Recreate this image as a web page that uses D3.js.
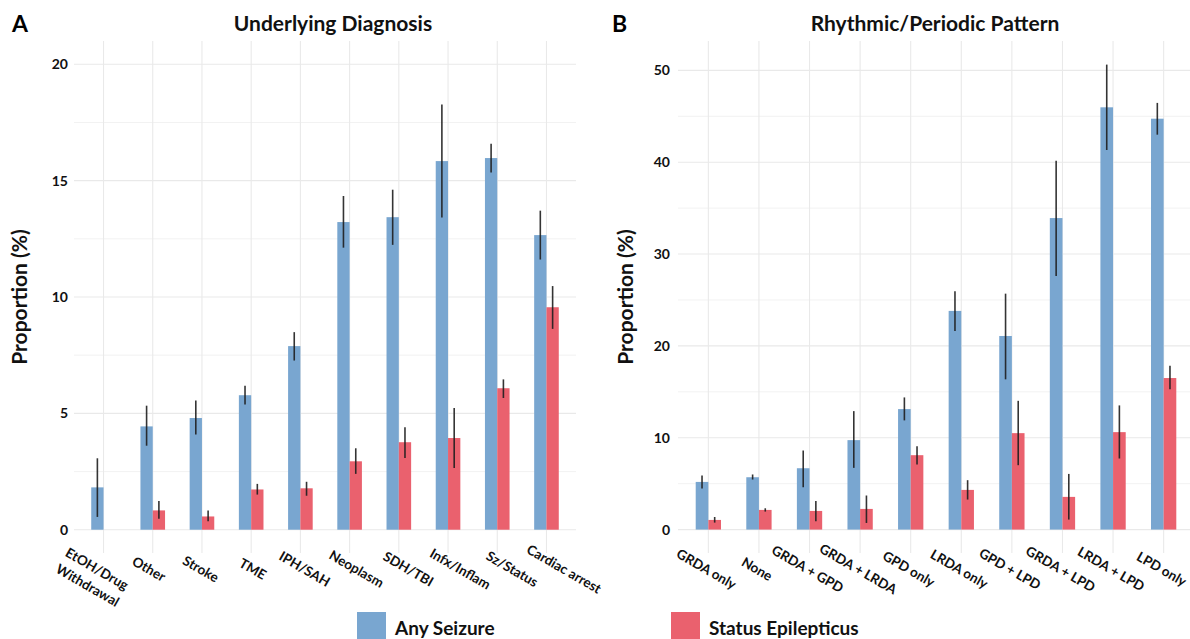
<!DOCTYPE html>
<html>
<head>
<meta charset="utf-8">
<script src="https://cdn.jsdelivr.net/npm/d3@7"></script>
<style>
  html, body { margin: 0; padding: 0; background: #fff; }
  svg { display: block; font-family: "Lato", "Open Sans", sans-serif; font-weight: bold; }
</style>
</head>
<body>
<svg id="chart" width="1190" height="639"></svg>
<script>
// Panel A: underlying diagnosis
const diagnosisCategories = ["EtOH/Drug\nWithdrawal", "Other", "Stroke", "TME", "IPH/SAH",
  "Neoplasm", "SDH/TBI", "Infx/Inflam", "Sz/Status", "Cardiac arrest"];
const diagAnySeizure   = [1.82, 4.44, 4.80, 5.78, 7.89, 13.22, 13.43, 15.84, 15.97, 12.66];
const diagAnySeizureLo = [0.55, 3.61, 4.09, 5.38, 7.27, 12.12, 12.24, 13.42, 15.35, 11.61];
const diagAnySeizureHi = [3.07, 5.33, 5.55, 6.19, 8.49, 14.34, 14.61, 18.27, 16.59, 13.71];
const diagStatus       = [0, 0.83, 0.57, 1.73, 1.78, 2.94, 3.76, 3.94, 6.08, 9.56];
const diagStatusLo     = [0, 0.47, 0.36, 1.51, 1.46, 2.40, 3.08, 2.65, 5.66, 8.63];
const diagStatusHi     = [0, 1.23, 0.83, 1.97, 2.06, 3.50, 4.40, 5.23, 6.46, 10.47];
const diagTicks = [0, 5, 10, 15, 20];

// Panel B: rhythmic / periodic pattern
const patternCategories = ["GRDA only", "None", "GRDA + GPD", "GRDA + LRDA", "GPD only",
  "LRDA only", "GPD + LPD", "GRDA + LPD", "LRDA + LPD", "LPD only"];
const patAnySeizure   = [5.19, 5.70, 6.68, 9.74, 13.12, 23.81, 21.08, 33.92, 45.98, 44.74];
const patAnySeizureLo = [4.47, 5.45, 4.61, 6.72, 11.89, 21.62, 16.36, 27.62, 41.33, 43.00];
const patAnySeizureHi = [5.89, 6.00, 8.61, 12.90, 14.39, 25.95, 25.69, 40.16, 50.63, 46.46];
const patStatus       = [1.05, 2.14, 2.03, 2.25, 8.10, 4.32, 10.50, 3.56, 10.61, 16.50];
const patStatusLo     = [0.76, 1.96, 0.91, 0.72, 7.09, 3.27, 7.01, 1.09, 7.74, 15.27];
const patStatusHi     = [1.37, 2.32, 3.12, 3.71, 9.08, 5.38, 14.02, 6.06, 13.52, 17.84];
const patTicks = [0, 10, 20, 30, 40, 50];

const seriesNames = ["Any Seizure", "Status Epilepticus"];
const colors = ["#79a6d0", "#ea616e"];

const svg = d3.select("#chart");

function drawPanel(p) {
  const g = svg.append("g");
  const x = d3.scalePoint().domain(p.cats).range(p.xRange).padding(0.6);
  const labelX = d3.scalePoint().domain(p.cats).range(p.labelRange).padding(p.labelPad);
  const y = d3.scaleLinear().domain(p.yDomain).range([553, 41]);
  const step = x.step();
  const bw = step * 0.25;
  const [x0, x1] = p.xRange;

  // minor + major horizontal grid
  const half = p.ticks[1] - p.ticks[0];
  const minor = p.ticks.map(t => t + half / 2).filter(v => v < p.yDomain[1]);
  g.append("g").selectAll("line").data(minor).join("line")
    .attr("x1", x0).attr("x2", x1)
    .attr("y1", d => y(d)).attr("y2", d => y(d))
    .attr("stroke", "#f0f0f0").attr("stroke-width", 0.9);
  g.append("g").selectAll("line").data(p.ticks).join("line")
    .attr("x1", x0).attr("x2", x1)
    .attr("y1", d => y(d)).attr("y2", d => y(d))
    .attr("stroke", "#e9e9e9").attr("stroke-width", 1.1);
  // vertical grid at categories
  g.append("g").selectAll("line").data(p.cats).join("line")
    .attr("x1", d => x(d)).attr("x2", d => x(d))
    .attr("y1", y.range()[1]).attr("y2", y.range()[0])
    .attr("stroke", "#e9e9e9").attr("stroke-width", 1.1);

  // bars
  const rows = [];
  p.cats.forEach((c, i) => {
    p.series.forEach((s, k) => {
      rows.push({ cat: c, k, v: s.v[i], lo: s.lo[i], hi: s.hi[i] });
    });
  });
  const barX = d => x(d.cat) + (d.k === 0 ? -bw : 0);
  g.append("g").selectAll("rect").data(rows).join("rect")
    .attr("x", barX)
    .attr("width", bw)
    .attr("y", d => y(d.v))
    .attr("height", d => y(0) - y(d.v))
    .attr("fill", d => colors[d.k]);

  // error bars
  g.append("g").selectAll("line").data(rows.filter(d => d.hi > d.lo)).join("line")
    .attr("x1", d => barX(d) + bw / 2).attr("x2", d => barX(d) + bw / 2)
    .attr("y1", d => y(d.lo)).attr("y2", d => y(d.hi))
    .attr("stroke", "#1e1e1e").attr("stroke-width", 1.6).attr("stroke-opacity", 0.9);

  // y axis labels
  const yAxis = d3.axisLeft(y).tickValues(p.ticks).tickSize(0).tickPadding(p.tickPad)
    .tickFormat(d3.format("d"));
  const ya = g.append("g").attr("transform", `translate(${x0},0)`).call(yAxis);
  ya.select(".domain").remove();
  ya.selectAll("text").attr("font-size", 14).attr("font-weight", "bold")
    .attr("font-family", "Lato, 'Open Sans', sans-serif").attr("fill", "#111");

  // x category labels (rotated)
  const lab = g.append("g").selectAll("text").data(p.cats).join("text")
    .attr("transform", d => `translate(${labelX(d)},569) rotate(30)`)
    .attr("text-anchor", "middle")
    .attr("font-size", 13.5)
    .attr("fill", "#111");
  lab.each(function (d) {
    const lines = d.split("\n");
    d3.select(this).selectAll("tspan").data(lines).join("tspan")
      .attr("x", 0)
      .attr("dy", (l, j) => j === 0 ? "0.35em" : "1.4em")
      .text(l => l);
  });

  // panel title, letter and y-axis title
  g.append("text").attr("x", p.titleX).attr("y", 31).attr("text-anchor", "middle")
    .attr("font-size", 21).attr("fill", "#111").text(p.title);
  g.append("text").attr("x", p.letterX).attr("y", 32)
    .attr("font-size", 23).attr("fill", "#000").text(p.letter);
  g.append("text").attr("transform", `translate(${p.yTitleX},297) rotate(-90)`)
    .attr("text-anchor", "middle").attr("font-size", 21).attr("fill", "#111")
    .text("Proportion (%)");
}

drawPanel({
  cats: diagnosisCategories,
  series: [
    { v: diagAnySeizure, lo: diagAnySeizureLo, hi: diagAnySeizureHi },
    { v: diagStatus, lo: diagStatusLo, hi: diagStatusHi }
  ],
  xRange: [74, 576],
  labelRange: [97, 564], labelPad: 0,
  yDomain: [-1, 21],
  ticks: diagTicks,
  tickPad: 6,
  title: "Underlying Diagnosis", titleX: 333,
  letter: "A", letterX: 12,
  yTitleX: 27
});

drawPanel({
  cats: patternCategories,
  series: [
    { v: patAnySeizure, lo: patAnySeizureLo, hi: patAnySeizureHi },
    { v: patStatus, lo: patStatusLo, hi: patStatusHi }
  ],
  xRange: [678, 1194],
  labelRange: [676, 1192], labelPad: 0.6,
  yDomain: [-2.55, 53.2],
  ticks: patTicks,
  tickPad: 8,
  title: "Rhythmic/Periodic Pattern", titleX: 935,
  letter: "B", letterX: 612,
  yTitleX: 633
});

// legend
const legend = svg.append("g");
const legendX = [357, 671];
seriesNames.forEach((name, k) => {
  legend.append("rect").attr("x", legendX[k]).attr("y", 612)
    .attr("width", 29).attr("height", 29).attr("fill", colors[k]);
  legend.append("text").attr("x", legendX[k] + 38).attr("y", 635)
    .attr("font-size", 19).attr("fill", "#111").text(name);
});
</script>
</body>
</html>
